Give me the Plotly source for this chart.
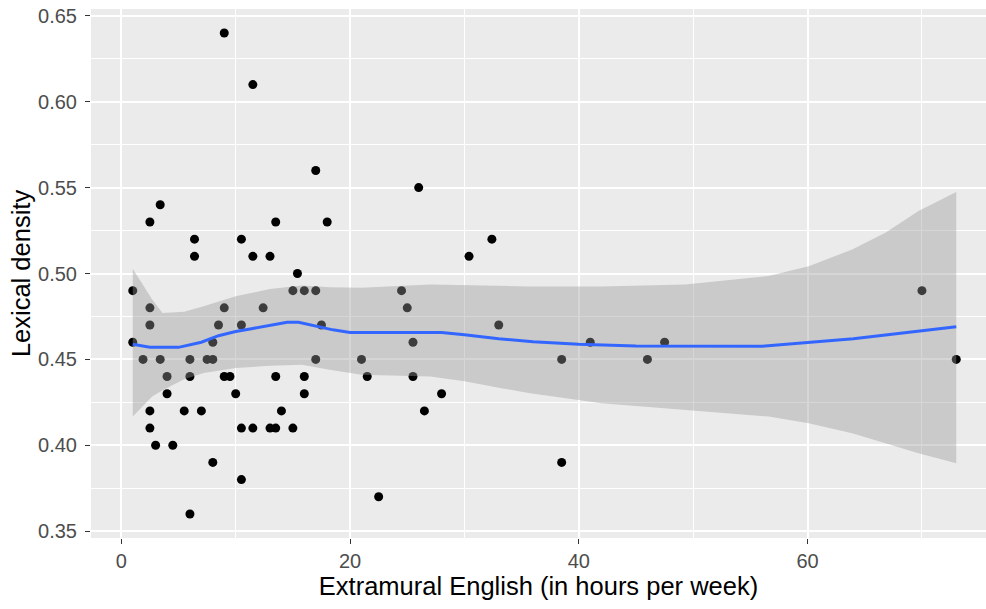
import plotly.graph_objects as go

# Scatter data: Extramural English (hours/week) vs lexical density
hours = [9, 11.5, 3.4, 2.5, 13.5, 6.4, 6.4, 10.5, 11.5, 13.0, 15.4, 1.0, 15.0,
         2.5, 9.0, 12.4, 2.5, 8.5, 10.5, 1.0, 8.0, 1.9, 3.4, 6.0, 7.5, 8.0,
         4.0, 6.0, 9.0, 9.5, 13.5, 4.0, 10.0, 2.5, 5.5, 7.0, 14.0, 2.5, 10.5,
         11.5, 13.0, 13.5, 15.0, 3.0, 4.5, 8.0, 10.5, 6.0,
         17.0, 26.0, 18.0, 32.4, 30.4, 16.0, 17.0, 24.5, 25.0, 17.5, 33.0,
         25.5, 17.0, 21.0, 16.0, 21.5, 25.5, 16.0, 28.0, 26.5, 22.5,
         70.0, 41.0, 47.5, 38.5, 46.0, 73.0, 38.5]
density = [0.64, 0.61, 0.54, 0.53, 0.53, 0.52, 0.51, 0.52, 0.51, 0.51, 0.50, 0.49, 0.49,
           0.48, 0.48, 0.48, 0.47, 0.47, 0.47, 0.46, 0.46, 0.45, 0.45, 0.45, 0.45, 0.45,
           0.44, 0.44, 0.44, 0.44, 0.44, 0.43, 0.43, 0.42, 0.42, 0.42, 0.42, 0.41, 0.41,
           0.41, 0.41, 0.41, 0.41, 0.40, 0.40, 0.39, 0.38, 0.36,
           0.56, 0.55, 0.53, 0.52, 0.51, 0.49, 0.49, 0.49, 0.48, 0.47, 0.47,
           0.46, 0.45, 0.45, 0.44, 0.44, 0.44, 0.43, 0.43, 0.42, 0.37,
           0.49, 0.46, 0.46, 0.45, 0.45, 0.45, 0.39]

# Loess smooth curve
smooth_x = [1, 2.5, 5, 7, 8.5, 10, 11.5, 13, 14.5, 15.5, 17, 18.5, 20, 25, 28, 30, 33,
            36, 40, 45, 50, 56, 60, 64, 67, 70, 73]
smooth_y = [0.4588, 0.4570, 0.4570, 0.4600, 0.4638, 0.4662, 0.4680, 0.4700, 0.4716,
            0.4716, 0.4695, 0.4672, 0.4657, 0.4657, 0.4656, 0.4644, 0.4620, 0.4603,
            0.4588, 0.4578, 0.4576, 0.4576, 0.4598, 0.4620, 0.4644, 0.4665, 0.4690]

# Confidence band
band_x = [1, 2.7, 3.6, 5.5, 7.2, 10, 13, 15.8, 18.2, 21, 27, 30, 33, 35.6, 42, 49.3,
          56.6, 60.1, 63.9, 66.8, 69.7, 73]
band_upper = [0.5027, 0.4848, 0.4770, 0.4778, 0.4810, 0.4867, 0.4910, 0.4930, 0.4920,
              0.4917, 0.4936, 0.4932, 0.4928, 0.4925, 0.4925, 0.4936, 0.4985, 0.5042,
              0.5140, 0.5237, 0.5364, 0.5475]
band_lower = [0.4167, 0.4284, 0.4320, 0.4385, 0.4420, 0.4450, 0.4463, 0.4469, 0.4440,
              0.4410, 0.4400, 0.4372, 0.4335, 0.4304, 0.4245, 0.4206, 0.4167, 0.4128,
              0.4070, 0.4011, 0.3953, 0.3895]

x_ticks = [0, 20, 40, 60]
y_ticks = [0.35, 0.40, 0.45, 0.50, 0.55, 0.60, 0.65]

FONT = "Liberation Sans, Arial, sans-serif"

fig = go.Figure()
fig.add_trace(go.Scatter(x=hours, y=density, mode="markers",
                         marker=dict(color="black", size=9), showlegend=False,
                         hoverinfo="skip"))
fig.add_trace(go.Scatter(x=band_x, y=band_lower, mode="lines", line=dict(width=0),
                         showlegend=False, hoverinfo="skip"))
fig.add_trace(go.Scatter(x=band_x, y=band_upper, mode="lines", line=dict(width=0),
                         fill="tonexty", fillcolor="rgba(153,153,153,0.4)",
                         showlegend=False, hoverinfo="skip"))
fig.add_trace(go.Scatter(x=smooth_x, y=smooth_y, mode="lines",
                         line=dict(color="#3366FF", width=3), showlegend=False,
                         hoverinfo="skip"))

fig.update_layout(
    width=986, height=609,
    paper_bgcolor="white", plot_bgcolor="#EBEBEB",
    margin=dict(l=91, r=0, t=9, b=71, autoexpand=False),
    font=dict(family=FONT),
)
fig.update_xaxes(
    automargin=False,
    range=[-2.65, 75.6], tickvals=x_ticks, ticktext=[str(v) for v in x_ticks],
    showgrid=True, gridcolor="white", gridwidth=1.6, zeroline=False,
    minor=dict(dtick=10, tick0=0, showgrid=True, gridcolor="white", gridwidth=0.8, ticks=""),
    ticks="outside", ticklen=5, tickcolor="#333333", tickwidth=1,
    tickfont=dict(size=20, color="#4D4D4D", family=FONT), ticklabelstandoff=0,
    ticklabeloverflow="allow",
    title=dict(text="Extramural English (in hours per week)",
               font=dict(size=25.5, color="black", family=FONT), standoff=0),
    showline=False,
)
fig.update_yaxes(
    automargin=False,
    range=[0.346, 0.654], tickvals=y_ticks, ticktext=[f"{v:.2f}" for v in y_ticks],
    showgrid=True, gridcolor="white", gridwidth=1.6, zeroline=False,
    minor=dict(dtick=0.025, tick0=0.35, showgrid=True, gridcolor="white", gridwidth=0.8, ticks=""),
    ticks="outside", ticklen=5, tickcolor="#333333", tickwidth=1,
    tickfont=dict(size=20, color="#4D4D4D", family=FONT), ticklabelstandoff=4,
    ticklabeloverflow="allow",
    title=dict(text="Lexical density",
               font=dict(size=25.5, color="black", family=FONT), standoff=0),
    showline=False,
)

fig.write_html("out.html", config={"displayModeBar": False},
               post_script="document.body.style.margin='0';")
